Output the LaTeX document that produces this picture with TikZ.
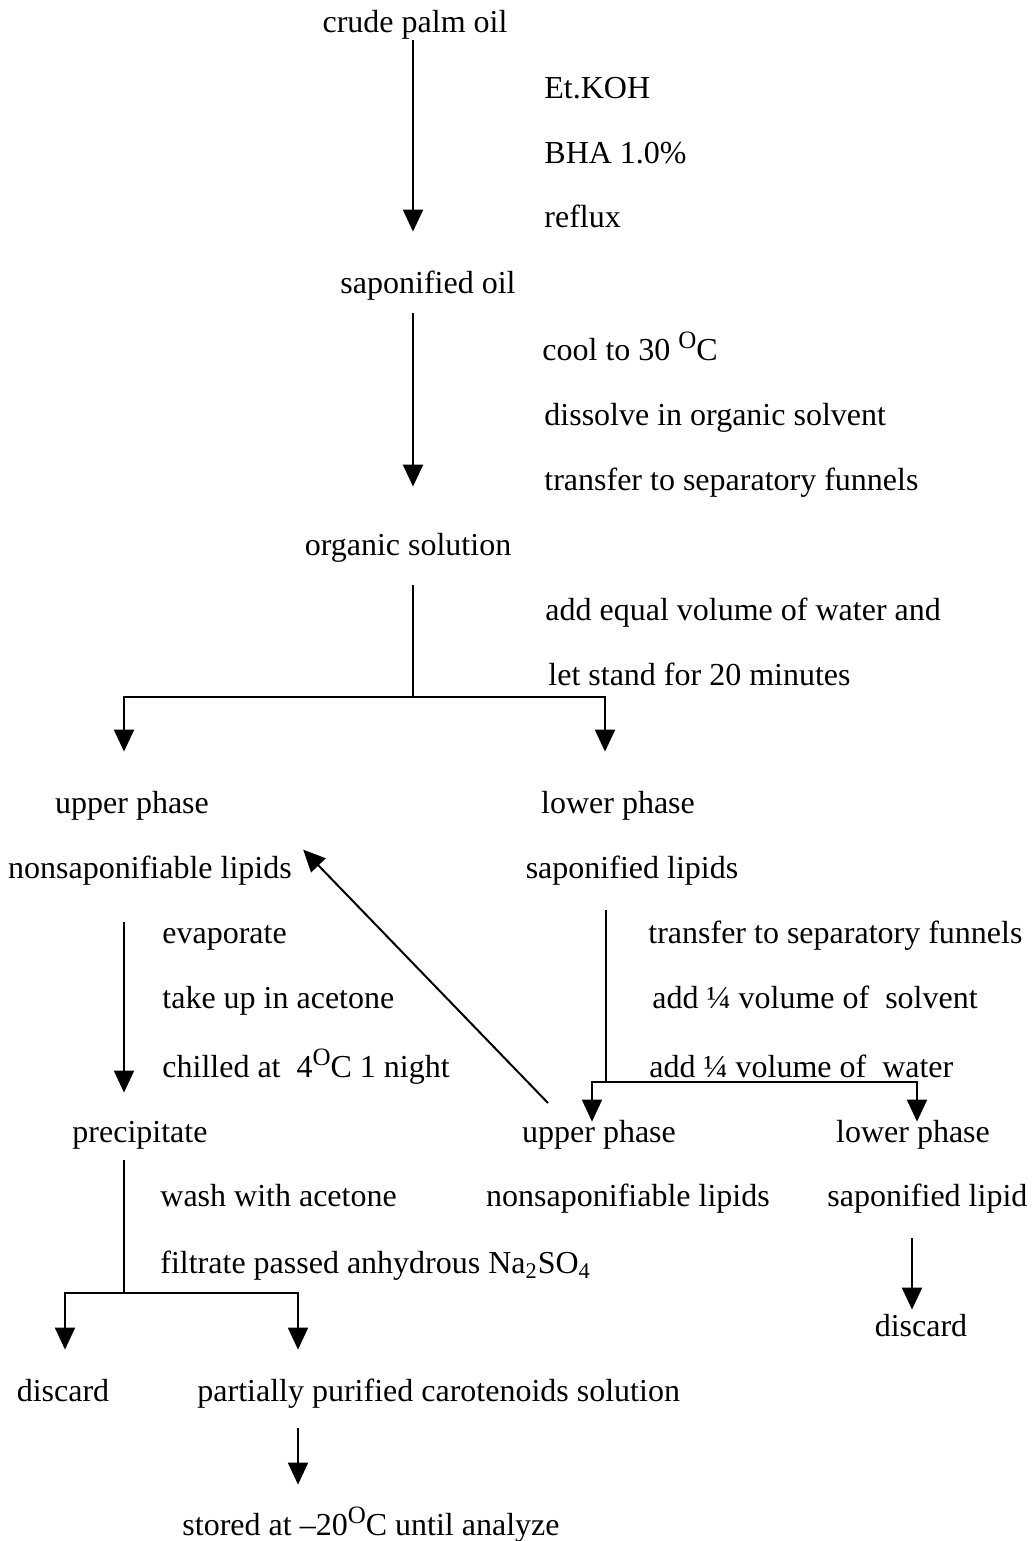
\documentclass[tikz,border=0pt]{standalone}
\usepackage{fontspec}
\setmainfont{Liberation Serif}
\usetikzlibrary{arrows.meta}
\newcommand{\degO}{\raisebox{6pt}{\fontsize{12.5pt}{13pt}\selectfont O}}

\begin{document}
\begin{tikzpicture}[x=0.5pt, y=-0.5pt, every node/.style={font=\fontsize{16pt}{19pt}\selectfont, inner sep=0pt, text height=14pt, text depth=3.5pt}, >={Triangle[width=10pt, length=11pt]}, ln/.style={line width=1pt}, arr/.style={ln, ->}, lbl/.style={anchor=west}]
	\useasboundingbox (0,0) rectangle (1035,1541);
	% main column
	\node (cpo) at (415,22) {crude palm oil};
	\foreach \t [count=\k] in {Et.KOH, BHA 1.0\%, reflux} {\node[lbl] (r\k) at (544,{88+64.5*(\k-1)}) {\t};}
	\node (sap) at (428,283) {saponified oil};
	\node[lbl] (c1) at (542,350) {cool to 30 \degO C};
	\node[lbl] (c2) at (544,415) {dissolve in organic solvent};
	\node[lbl] (c3) at (544,480) {transfer to separatory funnels};
	\node (os) at (408,545) {organic solution};
	\node[lbl] (w1) at (545,610) {add equal volume of water and};
	\node[lbl] (w2) at (548,675) {let stand for 20 minutes};
	% first separation
	\node (up1) at (132,803) {upper phase};
	\node (nsl1) at (150,868) {nonsaponifiable lipids};
	\node (lo1) at (618,803) {lower phase};
	\node (sl1) at (632,868) {saponified lipids};
	\node[lbl] (e1) at (162,933) {evaporate};
	\node[lbl] (e2) at (162,998) {take up in acetone};
	\node[lbl] (e3) at (162,1067) {chilled at~ 4\degO C 1 night};
	\node (pre) at (140,1132) {precipitate};
	\node[lbl] (t1) at (648,933) {transfer to separatory funnels};
	\node[lbl] (t2) at (652,998) {add ¼ volume of~ solvent};
	\node[lbl] (t3) at (649,1067) {add ¼ volume of~ water};
	% second separation
	\node (up2) at (599,1132) {upper phase};
	\node (lo2) at (913,1132) {lower phase};
	\node (nsl2) at (628,1196) {nonsaponifiable lipids};
	\node[lbl] (sl2) at (827,1196) {saponified lipid};
	\node (dis2) at (921,1326) {discard};
	% precipitate treatment
	\node[lbl] (p1) at (160,1196) {wash with acetone};
	\node[lbl] (p2) at (160,1263) {filtrate passed anhydrous Na\textsubscript{2}SO\textsubscript{4}};
	\node (dis1) at (63,1391) {discard};
	\node[lbl] (ppc) at (197,1391) {partially purified carotenoids solution};
	\node (sto) at (371,1525) {stored at –20\degO C until analyze};
	% arrow columns and split points
	\coordinate (xa) at (413,0); \coordinate (xb) at (124,0); \coordinate (xc) at (605,0);
	\coordinate (xd) at (606,0); \coordinate (xe) at (592,0); \coordinate (xf) at (917,0);
	\coordinate (xg) at (912,0); \coordinate (xh) at (65,0); \coordinate (xi) at (298,0);
	\coordinate (sp1) at (413,697); \coordinate (sp2) at (606,1082); \coordinate (sp3) at (124,1293);
	\coordinate (dg) at (548,1103);
	\draw[arr, shorten <=0.25pt, shorten >=16.75pt] (xa |- cpo.south) -- (xa |- sap.north);
	\draw[arr, shorten <=6.25pt, shorten >=20.25pt] (xa |- sap.south) -- (xa |- os.north);
	\draw[ln, shorten <=11.25pt] (xa |- os.south) -- (sp1);
	\draw[arr, shorten >=16.75pt] (sp1) -| (xb |- up1.north);
	\draw[arr, shorten >=16.75pt] (sp1) -| (xc |- lo1.north);
	\draw[arr, shorten <=18.25pt, shorten >=10.75pt] (xb |- nsl1.south) -- (xb |- pre.north);
	\draw[ln, shorten <=12.25pt] (xd |- sl1.south) -- (sp2);
	\draw[arr, shorten >=-3.75pt] (sp2) -| (xe |- up2.north);
	\draw[arr, shorten >=-3.75pt] (sp2) -| (xf |- lo2.north);
	\draw[arr] (dg) -- ([xshift=5.5pt, yshift=0.25pt]nsl1.north east);
	\draw[arr, shorten <=12.25pt, shorten >=-0.75pt] (xg |- sl2.south) -- (xg |- dis2.north);
	\draw[ln, shorten <=5.25pt] (xb |- pre.south) -- (sp3);
	\draw[arr, shorten >=11.75pt] (sp3) -| (xh |- dis1.north);
	\draw[arr, shorten >=11.75pt] (sp3) -| (xi |- ppc.north);
	\draw[arr, shorten <=9.75pt, shorten >=11.25pt] (xi |- ppc.south) -- (xi |- sto.north);
\end{tikzpicture}
\end{document}
